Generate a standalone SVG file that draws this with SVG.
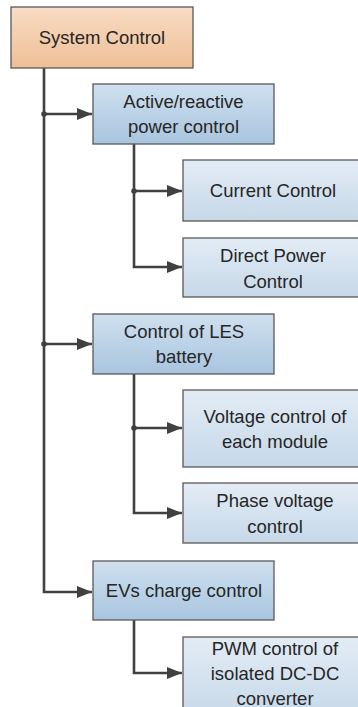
<svg xmlns="http://www.w3.org/2000/svg" width="358" height="707" viewBox="0 0 358 707">
<defs>
<linearGradient id="gOrange" x1="0" y1="0" x2="0" y2="1"><stop offset="0" stop-color="#f8dcc4"/><stop offset="1" stop-color="#efbf96"/></linearGradient>
<linearGradient id="gBlue" x1="0" y1="0" x2="0" y2="1"><stop offset="0" stop-color="#cfe0ef"/><stop offset="1" stop-color="#a8c5df"/></linearGradient>
<linearGradient id="gLight" x1="0" y1="0" x2="0" y2="1"><stop offset="0" stop-color="#e3ecf5"/><stop offset="1" stop-color="#c6d8e9"/></linearGradient>
<marker id="arr" markerUnits="userSpaceOnUse" markerWidth="16" markerHeight="12" refX="15" refY="6" orient="auto"><path d="M0,0 L15,6 L0,12 Z" fill="#404040"/></marker>
</defs>
<style>
.box{stroke:#595959;stroke-width:1.3}
.o{fill:url(#gOrange)}
.b{fill:url(#gBlue)}
.l{fill:url(#gLight)}
text{font-family:"Liberation Sans",Arial,sans-serif;font-size:18.5px;fill:#262626;text-anchor:middle}
.c{fill:none;stroke:#404040;stroke-width:2.6}
.dot{fill:#404040}
</style>
<g id="connectors">
<path class="c" d="M44,68 V592 H92" marker-end="url(#arr)"/>
<path class="c" d="M44,114 H92" marker-end="url(#arr)"/>
<path class="c" d="M44,344 H92" marker-end="url(#arr)"/>
<circle class="dot" cx="44" cy="114" r="2.8"/>
<circle class="dot" cx="44" cy="344" r="2.8"/>
<path class="c" d="M134,144 V267 H182" marker-end="url(#arr)"/>
<path class="c" d="M134,191 H182" marker-end="url(#arr)"/>
<circle class="dot" cx="134" cy="191" r="2.8"/>
<path class="c" d="M134,374 V513 H182" marker-end="url(#arr)"/>
<path class="c" d="M134,428 H182" marker-end="url(#arr)"/>
<circle class="dot" cx="134" cy="428" r="2.8"/>
<path class="c" d="M134,620 V673 H182" marker-end="url(#arr)"/>
</g>
<g id="system-control"><rect class="box o" x="11" y="7" width="182" height="61"/><text x="102" y="44">System Control</text></g>
<g id="active-reactive"><rect class="box b" x="93" y="84" width="181" height="60"/><text x="183.5" y="108">Active/reactive</text><text x="183.5" y="132.5">power control</text></g>
<g id="current-control"><rect class="box l" x="183" y="160" width="180" height="61"/><text x="273" y="197">Current Control</text></g>
<g id="direct-power"><rect class="box l" x="183" y="238" width="180" height="59"/><text x="273" y="262">Direct Power</text><text x="273" y="287.5">Control</text></g>
<g id="les-battery"><rect class="box b" x="93" y="314" width="181" height="60"/><text x="184" y="338">Control of LES</text><text x="184" y="363">battery</text></g>
<g id="voltage-module"><rect class="box l" x="183" y="390" width="180" height="77"/><text x="275" y="423">Voltage control of</text><text x="275" y="448">each module</text></g>
<g id="phase-voltage"><rect class="box l" x="183" y="483" width="180" height="60"/><text x="275" y="507">Phase voltage</text><text x="275" y="532.5">control</text></g>
<g id="evs-charge"><rect class="box b" x="93" y="561" width="181" height="59"/><text x="184" y="597">EVs charge control</text></g>
<g id="pwm"><rect class="box l" x="183" y="637" width="180" height="82"/><text x="275" y="654.5">PWM control of</text><text x="275" y="680">isolated DC-DC</text><text x="275" y="704.5">converter</text></g>
</svg>
